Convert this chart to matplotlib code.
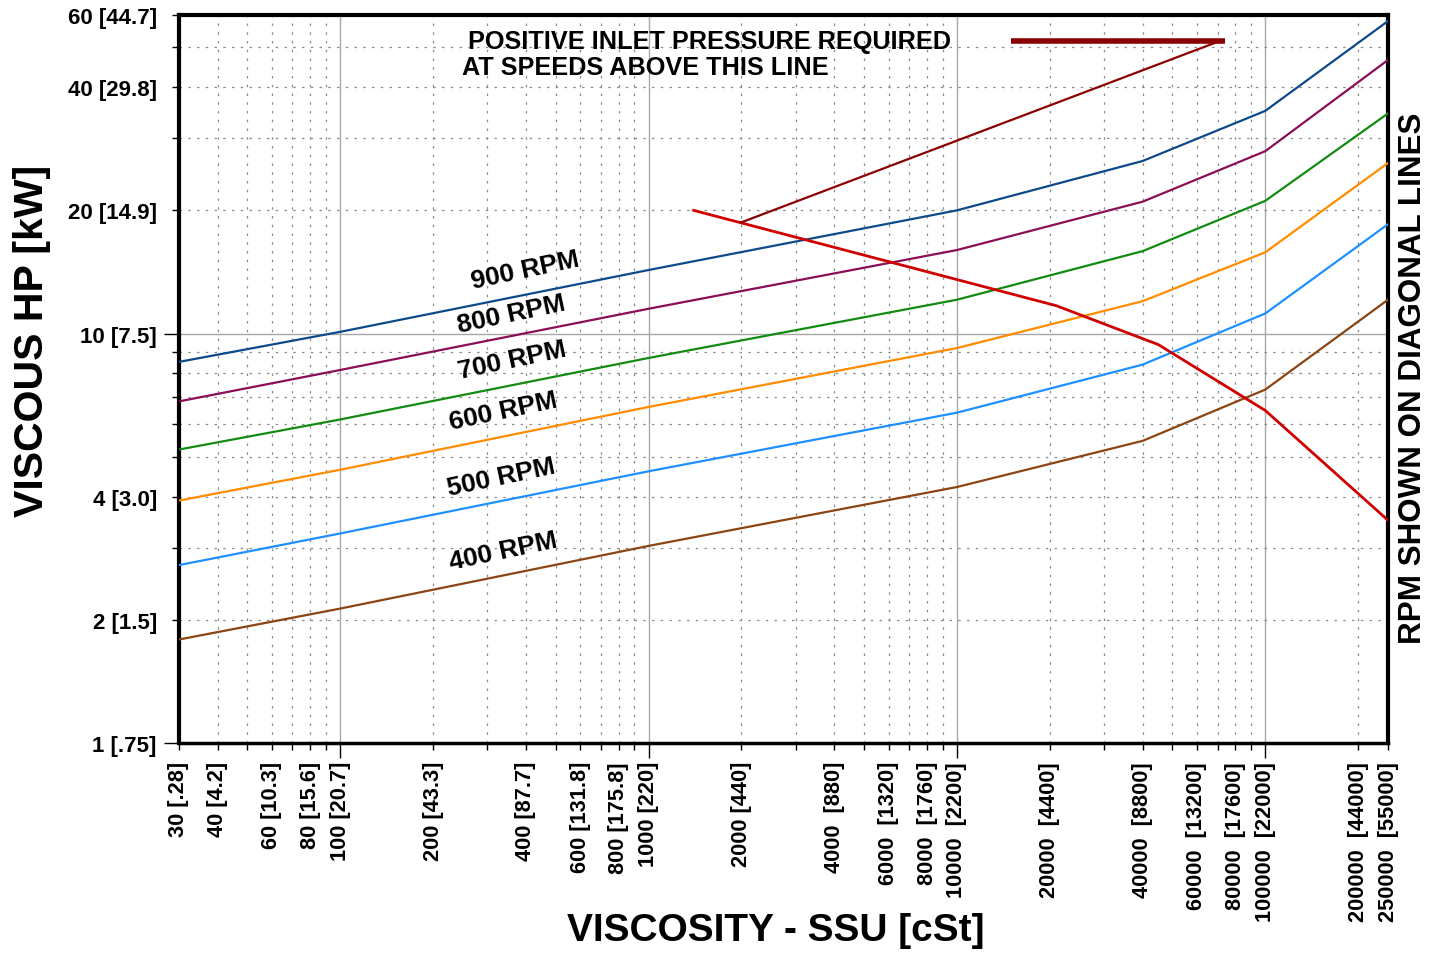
import matplotlib
matplotlib.use('Agg')
import matplotlib.pyplot as plt
from matplotlib.ticker import FixedLocator, FuncFormatter

plt.rcParams['font.family'] = ['Liberation Sans', 'DejaVu Sans']
plt.rcParams['font.weight'] = 'bold'

# viscosity (SSU) where the curves bend
ssu = [30, 100, 1000, 10000, 40000, 100000, 250000]
hp_900 = [8.53, 10.1, 14.3, 20.0, 26.4, 35.0, 58.0]
hp_800 = [6.83, 8.15, 11.5, 16.0, 21.0, 27.9, 46.6]
hp_700 = [5.21, 6.17, 8.72, 12.1, 15.9, 21.1, 34.5]
hp_600 = [3.91, 4.65, 6.62, 9.22, 12.0, 15.8, 26.1]
hp_500 = [2.72, 3.25, 4.61, 6.41, 8.40, 11.2, 18.5]
hp_400 = [1.79, 2.13, 3.03, 4.22, 5.47, 7.30, 12.1]

# inlet pressure boundary
limit_ssu = [1400, 21000, 45000, 100000, 250000]
limit_hp = [20.0, 11.7, 9.4, 6.49, 3.50]
pointer_ssu = [2000, 71000]
pointer_hp = [18.7, 51.8]
marker_ssu = [15000, 74000]
marker_hp = [51.8, 51.8]

series = [
    ('900 RPM', hp_900, '#0d4a8a'),
    ('800 RPM', hp_800, '#8a0f55'),
    ('700 RPM', hp_700, '#138b13'),
    ('600 RPM', hp_600, '#ff8c00'),
    ('500 RPM', hp_500, '#1e90ff'),
    ('400 RPM', hp_400, '#8b4513'),
]
rpm_label_pos = [(399, 14.3), (360, 11.2), (362, 8.64), (339, 6.48), (334, 4.47), (339, 2.95)]

x_major = [100, 1000, 10000, 100000]
x_minor = [30, 40, 50, 60, 70, 80, 90,
           200, 300, 400, 500, 600, 700, 800, 900,
           2000, 3000, 4000, 5000, 6000, 7000, 8000, 9000,
           20000, 30000, 40000, 50000, 60000, 70000, 80000, 90000,
           200000, 250000]
x_labels = {30: '30 [.28]', 40: '40 [4.2]', 60: '60 [10.3]', 80: '80 [15.6]',
            100: '100 [20.7]', 200: '200 [43.3]', 400: '400 [87.7]',
            600: '600 [131.8]', 800: '800 [175.8]', 1000: '1000 [220]',
            2000: '2000 [440]', 4000: '4000  [880]', 6000: '6000  [1320]',
            8000: '8000  [1760]', 10000: '10000  [2200]', 20000: '20000  [4400]',
            40000: '40000  [8800]', 60000: '60000  [13200]', 80000: '80000  [17600]',
            100000: '100000  [22000]', 200000: '200000  [44000]',
            250000: '250000  [55000]'}

y_major = [1, 10]
y_minor = [2, 3, 4, 5, 6, 7, 8, 9, 20, 30, 40, 50, 60]
y_labels = {1: '1 [.75]', 2: '2 [1.5]', 4: '4 [3.0]', 10: '10 [7.5]',
            20: '20 [14.9]', 40: '40 [29.8]', 60: '60 [44.7]'}

fig = plt.figure(figsize=(14.33, 9.54), dpi=100)
ax = fig.add_axes([0.1249, 0.2201, 0.8437, 0.7631])
ax.set_xscale('log')
ax.set_yscale('log')
ax.set_xlim(30, 250000)
ax.set_ylim(1, 60)

for label, hp, color in series:
    ax.plot(ssu, hp, color=color, lw=1.6, zorder=3)
ax.plot(limit_ssu, limit_hp, color='#d00000', lw=2.0, zorder=4)
ax.plot(pointer_ssu, pointer_hp, color='#8b0000', lw=1.6, zorder=4)
ax.plot(marker_ssu, marker_hp, color='#8b0000', lw=4.0, solid_capstyle='butt', zorder=4)

for (label, hp, color), (lx, ly) in zip(series, rpm_label_pos):
    ax.text(lx, ly, label, fontsize=19, fontweight='bold', rotation=12,
            ha='center', va='center', rotation_mode='anchor', zorder=5)

ax.text(0.239, 0.964, 'POSITIVE INLET PRESSURE REQUIRED', transform=ax.transAxes,
        fontsize=18.2, fontweight='bold', ha='left', va='center')
ax.text(0.234, 0.929, 'AT SPEEDS ABOVE THIS LINE', transform=ax.transAxes,
        fontsize=18.2, fontweight='bold', ha='left', va='center')

fmt = FuncFormatter(lambda v, pos: x_labels.get(int(round(v)), ''))
ax.xaxis.set_major_locator(FixedLocator(x_major))
ax.xaxis.set_minor_locator(FixedLocator(x_minor))
ax.xaxis.set_major_formatter(fmt)
ax.xaxis.set_minor_formatter(fmt)

yfmt = FuncFormatter(lambda v, pos: y_labels.get(int(round(v)), ''))
ax.yaxis.set_major_locator(FixedLocator(y_major))
ax.yaxis.set_minor_locator(FixedLocator(y_minor))
ax.yaxis.set_major_formatter(yfmt)
ax.yaxis.set_minor_formatter(yfmt)

ax.tick_params(axis='x', which='major', length=11, width=1, pad=2,
               labelsize=15.7, labelrotation=90)
ax.tick_params(axis='x', which='minor', length=5, width=1, pad=8,
               labelsize=15.7, labelrotation=90)
ax.tick_params(axis='y', which='major', length=11, width=1, pad=5, labelsize=16)
ax.tick_params(axis='y', which='minor', length=5, width=1, pad=11, labelsize=16)
for lab in ax.get_xticklabels(which='both'):
    lab.set_va('top')
    lab.set_ha('center')

ax.grid(which='major', color='#a8a8a8', lw=1.0, ls='-')
ax.grid(which='minor', color='#8c8c8c', lw=0.9, ls=(0, (2, 5)))
ax.set_axisbelow(True)

for side in ['left', 'top', 'right']:
    ax.spines[side].set_linewidth(3.0)
ax.spines['bottom'].set_linewidth(2.5)

fig.text(0.5415, 0.0241, 'VISCOSITY - SSU [cSt]', fontsize=28, fontweight='bold',
         ha='center', va='center')
fig.text(0.0223, 0.6426, 'VISCOUS HP [kW]', fontsize=29.5, fontweight='bold',
         rotation=90, ha='center', va='center')
fig.text(0.986, 0.6038, 'RPM SHOWN ON DIAGONAL LINES', fontsize=22.6, fontweight='bold',
         rotation=90, ha='center', va='center')

fig.savefig('out.png', dpi=100)
